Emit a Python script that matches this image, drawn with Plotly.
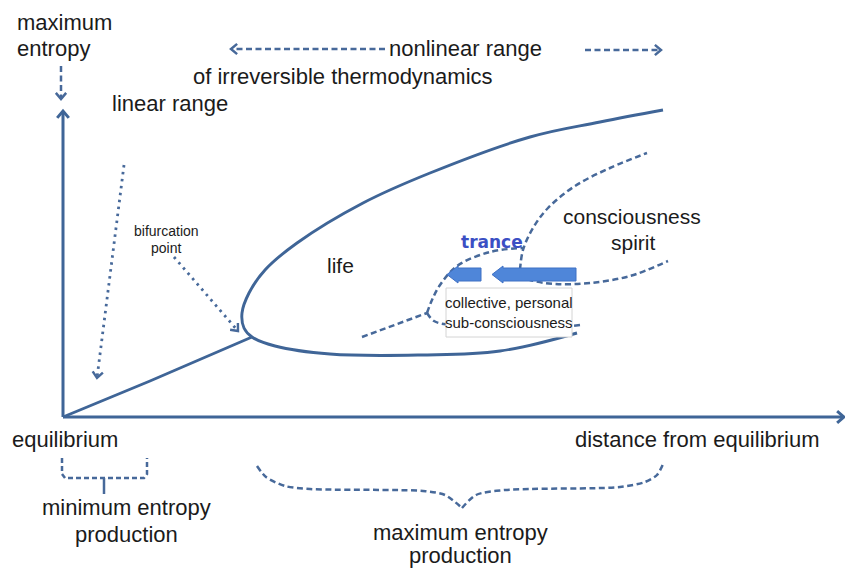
import numpy as np
import plotly.graph_objects as go

W, H = 845, 568
AXC = "#3f6597"
DC = "#47699a"
TXT = "#1b1b1b"
FONT = "Liberation Sans, Arial, sans-serif"

# ---- diagram geometry (pixel space, y downwards) ----
axis_origin = (63, 417)
axis_top_y = 111
axis_right_x = 844

linear_x = [63, 150, 252]
linear_y = [417, 381, 337]

branch_x = [663, 600, 530, 430, 363, 297, 265, 249, 242, 244, 252, 275, 330, 420, 500, 577]
branch_y = [110, 122, 137, 173, 203, 243, 270, 293, 313, 328, 337, 346, 354, 355, 351, 333]

stem_x = [362, 427]
stem_y = [337, 313]
trance_x = [427, 432, 440, 457, 490, 523]
trance_y = [313, 300, 285, 266, 252, 248]
subc_x = [427, 434, 450, 520, 580]
subc_y = [313, 321, 325, 330, 325]
consc_x = [520, 523, 533, 548, 575, 610, 647]
consc_y = [270, 250, 228, 208, 186, 168, 153]
spirit_x = [510, 530, 555, 590, 630, 668]
spirit_y = [272, 280, 284, 283, 276, 261]

dotted_arrows = [((124, 165), (97, 378)), ((174, 257), (238, 331))]
dashed_arrows = [((61, 66), (61, 99)), ((385, 49), (231, 49)), ((585, 50), (661, 50))]

small_brace_x = [62, 62, 65, 144, 147, 147]
small_brace_y = [458, 474, 478, 478, 474, 458]
small_stem_x = [104, 104]
small_stem_y = [478, 494]
big_left_x = [257, 266, 285, 310, 423, 445, 462]
big_left_y = [466, 477, 486, 489, 491, 495, 508]
big_right_x = [462, 476, 505, 620, 645, 657, 663]
big_right_y = [508, 495, 490, 487, 482, 475, 464]

# block arrows: tip x, tail x, centre y
block_arrows = [(447, 481, 274.5), (492, 576, 274.5)]

box = (446, 288, 572, 337)

labels = [
    ("maximum", 64, 22, 22, False, TXT),
    ("entropy", 53, 48, 22, False, TXT),
    ("nonlinear range", 465, 48, 22, False, TXT),
    ("of irreversible thermodynamics", 343, 76, 22, False, TXT),
    ("linear range", 170, 103, 22, False, TXT),
    ("bifurcation", 166, 231, 14, False, TXT),
    ("point", 166, 248, 14, False, TXT),
    ("life", 340, 265, 21, False, TXT),
    ("trance", 492, 242, 17, True, "#3b4fc4"),
    ("consciousness", 632, 216, 21, False, TXT),
    ("spirit", 633, 242, 21, False, TXT),
    ("collective, personal", 509, 302, 15, False, TXT),
    ("sub-consciousness", 509, 322, 15, False, TXT),
    ("equilibrium", 65, 439, 22, False, TXT),
    ("distance from equilibrium", 697, 439, 22, False, TXT),
    ("minimum entropy", 126, 507, 22, False, TXT),
    ("production", 126, 534, 22, False, TXT),
    ("maximum entropy", 460, 532, 22, False, TXT),
    ("production", 460, 555, 22, False, TXT),
]


def chevron(tip, d, size=8.0, ang=0.7):
    u = np.array(d, dtype=float)
    u /= np.linalg.norm(u)
    pts = []
    for a in (ang, -ang):
        c, s = np.cos(a), np.sin(a)
        r = np.array([c * u[0] - s * u[1], s * u[0] + c * u[1]])
        pts.append(np.array(tip) - size * r)
    return [pts[0][0], tip[0], pts[1][0]], [pts[0][1], tip[1], pts[1][1]]


fig = go.Figure()


def line(x, y, color=AXC, width=2.6, dash="solid", shape="linear", smooth=1.0):
    ln = dict(color=color, width=width, dash=dash, shape=shape)
    if shape == "spline":
        ln["smoothing"] = smooth
    fig.add_trace(go.Scatter(x=x, y=y, mode="lines", line=ln,
                             hoverinfo="skip", showlegend=False))


# axes
ox, oy = axis_origin
line([ox, ox], [oy, axis_top_y], width=3)
line([ox, axis_right_x], [oy, oy], width=3)
cx, cy = chevron((ox, axis_top_y), (0, -1), 9)
line(cx, cy, width=3)
cx, cy = chevron((axis_right_x, oy), (1, 0), 9)
line(cx, cy, width=3)

# solid curves
line(linear_x, linear_y, width=2.9)
line(branch_x, branch_y, width=2.9, shape="spline", smooth=1.1)

# dashed curves
DASH = "6px,3.5px"
for xs, ys in [(stem_x, stem_y), (trance_x, trance_y), (subc_x, subc_y),
               (consc_x, consc_y), (spirit_x, spirit_y)]:
    line(xs, ys, color=DC, width=2.5, dash=DASH, shape="spline", smooth=1.0)

# dotted arrows
for (a, b) in dotted_arrows:
    line([a[0], b[0]], [a[1], b[1]], color=DC, width=2.8, dash="2.5px,4.5px")
    cx, cy = chevron(b, (b[0] - a[0], b[1] - a[1]), 8)
    line(cx, cy, color=DC, width=2.4)

# dashed arrows
for (a, b) in dashed_arrows:
    line([a[0], b[0]], [a[1], b[1]], color=DC, width=2.5, dash=DASH)
    cx, cy = chevron(b, (b[0] - a[0], b[1] - a[1]), 8)
    line(cx, cy, color=DC, width=2.5)

# braces
line(small_brace_x, small_brace_y, color=DC, width=2.5, dash="5px,3px")
line(small_stem_x, small_stem_y, color=DC, width=2.5)
line(big_left_x, big_left_y, color=DC, width=2.5, dash=DASH, shape="spline", smooth=0.8)
line(big_right_x, big_right_y, color=DC, width=2.5, dash=DASH, shape="spline", smooth=0.8)

# block arrows
for tip, tail, yc in block_arrows:
    hl, hh, sh = 11, 8.5, 6.5
    px = [tip, tip + hl, tip + hl, tail, tail, tip + hl, tip + hl, tip]
    py = [yc, yc - hh, yc - sh, yc - sh, yc + sh, yc + sh, yc + hh, yc]
    fig.add_trace(go.Scatter(x=px, y=py, mode="lines", fill="toself",
                             fillcolor="#4f86d9", line=dict(color="#3f70c4", width=1),
                             hoverinfo="skip", showlegend=False))

shapes = [dict(type="rect", xref="x", yref="y", x0=box[0], y0=box[1], x1=box[2], y1=box[3],
               fillcolor="white", line=dict(color="#d4d4d4", width=1), layer="above")]

annotations = []
for text, x, y, size, bold, color in labels:
    annotations.append(dict(
        x=x, y=y, xref="x", yref="y", showarrow=False,
        text=f"<b>{text}</b>" if bold else text,
        font=dict(family=("DejaVu Sans, Verdana, sans-serif" if bold else FONT), size=size, color=color),
        xanchor="center", yanchor="middle"))

fig.update_layout(
    width=W, height=H, autosize=False,
    margin=dict(l=0, r=0, t=0, b=0),
    paper_bgcolor="white", plot_bgcolor="white",
    xaxis=dict(range=[0, W], visible=False, fixedrange=True),
    yaxis=dict(range=[H, 0], visible=False, fixedrange=True),
    shapes=shapes, annotations=annotations,
)

fig.write_html("out.html", config={"displayModeBar": False},
               post_script="document.body.style.margin='0px';document.body.style.overflow='hidden';")
